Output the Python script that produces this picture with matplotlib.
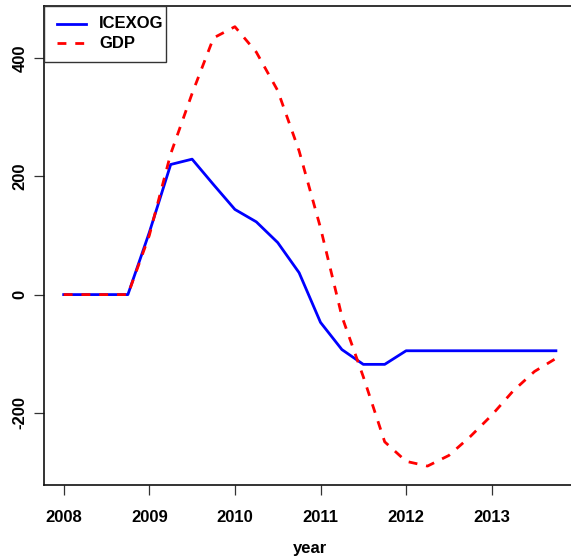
import matplotlib
matplotlib.use("Agg")
import matplotlib.pyplot as plt
from matplotlib.lines import Line2D
from matplotlib.patches import Rectangle
import numpy as np

# quarterly response data, 2008Q1 .. 2013Q4
years = 2008 + np.arange(24) / 4.0
icexog = [0, 0, 0, 0, 105, 220, 229, 186, 144, 123, 88, 37,
          -47, -93, -118, -118, -95, -95, -95, -95, -95, -95, -95, -95]
gdp = [0, 0, 0, 0, 100, 238, 340, 434, 453, 410, 345, 243,
       113, -37, -139, -249, -282, -290, -272, -240, -204, -163, -130, -108]
xticks = [2008, 2009, 2010, 2011, 2012, 2013]
yticks = [-200, 0, 200, 400]
series_names = ["ICEXOG", "GDP"]

plt.rcParams["font.family"] = ["Liberation Sans", "DejaVu Sans"]
plt.rcParams["font.weight"] = "bold"

W, H = 571, 560
fig = plt.figure(figsize=(W / 100, H / 100), dpi=100)
ax = fig.add_axes([44 / W, (H - 485) / H, (575.6 - 44) / W, (485 - 6) / H])

blue_kw = dict(color="#0000FF", lw=2.0)
red_kw = dict(color="#FF0000", lw=2.0, linestyle=(0, (3.2, 3.2)))
ax.plot(years, icexog, **blue_kw)
ax.plot(years, gdp, **red_kw)

ax.set_xlim(2007.77, 2013.98)
ax.set_ylim(-322, 488)
ax.set_xticks(xticks)
ax.set_yticks(yticks)
ax.set_xticklabels([str(v) for v in xticks], fontsize=12, fontweight="bold")
ax.set_yticklabels([str(v) for v in yticks], fontsize=12, fontweight="bold",
                   rotation=90, va="center")
ax.tick_params(direction="out", length=7, width=0.9, color="#333333")
ax.tick_params(axis="x", pad=11)
ax.tick_params(axis="y", pad=5)
for s in ax.spines.values():
    s.set_linewidth(1.2)
    s.set_color("#111111")

fig.text((44 + 575.6) / 2 / W, 1 - 549 / H, "year", ha="center", va="center",
         fontsize=12, fontweight="bold")


# R-style legend box in the top-left corner (pixel coords from the top)
def px(x, y):
    return x / W, 1 - y / H


x0, y0 = px(44, 62)
x1, y1 = px(166, 6)
fig.add_artist(Rectangle((x0, y0), x1 - x0, y1 - y0, transform=fig.transFigure,
                         facecolor="white", edgecolor="#333333", lw=1.0, zorder=5))
for row_y, name, kw in [(24, series_names[0], blue_kw), (43, series_names[1], red_kw)]:
    lx0, ly = px(57, row_y)
    lx1, _ = px(86, row_y)
    fig.add_artist(Line2D([lx0, lx1], [ly, ly], transform=fig.transFigure, zorder=6, **kw))
    tx, _ = px(99, row_y)
    fig.text(tx, ly, name, ha="left", va="center", fontsize=12, fontweight="bold", zorder=6)

fig.savefig("out.png", dpi=100)
